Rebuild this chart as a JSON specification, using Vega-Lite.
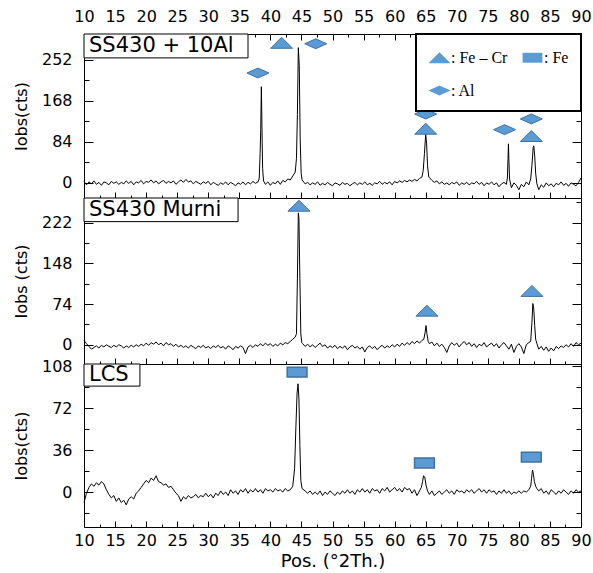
{
"$schema": "https://vega.github.io/schema/vega-lite/v6.json",
"padding": {"left": 12, "top": 7, "right": 5, "bottom": 0},
"background": "white",
"spacing": 0,
"bounds": "flush",
"config": {
  "view": {"stroke": "black", "strokeWidth": 1},
  "font": "DejaVu Sans",
  "axis": {"labelColor": "black", "tickColor": "black", "titleColor": "black", "titleFontWeight": "normal", "domain": false, "grid": false, "labelFlush": false, "labelOverlap": false, "labelFont": "DejaVu Sans", "labelFontSize": 16, "titleFont": "DejaVu Sans", "titleFontSize": 16, "tickWidth": 1},
  "legend": {"strokeWidth": 2}
},
"resolve": {"scale": {"shape": "independent"}, "legend": {"shape": "independent"}},
"datasets": {
"a": [{"x":10,"y":3},{"x":10.4,"y":-4},{"x":10.8,"y":2},{"x":11.2,"y":-2},{"x":11.6,"y":4},{"x":12,"y":-3},{"x":12.4,"y":1},{"x":12.8,"y":-5},{"x":13.2,"y":2},{"x":13.6,"y":0},{"x":14,"y":-4},{"x":14.4,"y":3},{"x":14.8,"y":-1},{"x":15.2,"y":2},{"x":15.6,"y":-3},{"x":16,"y":1},{"x":16.4,"y":-2},{"x":16.8,"y":4},{"x":17.2,"y":-1},{"x":17.6,"y":3},{"x":18,"y":-4},{"x":18.4,"y":2},{"x":18.8,"y":0},{"x":19.2,"y":5},{"x":19.6,"y":-2},{"x":20,"y":3},{"x":20.4,"y":1},{"x":20.8,"y":6},{"x":21.2,"y":0},{"x":21.6,"y":4},{"x":22,"y":-2},{"x":22.4,"y":2},{"x":22.8,"y":5},{"x":23.2,"y":-1},{"x":23.6,"y":3},{"x":24,"y":0},{"x":24.4,"y":4},{"x":24.8,"y":-3},{"x":25.2,"y":2},{"x":25.6,"y":6},{"x":26,"y":1},{"x":26.4,"y":7},{"x":26.8,"y":2},{"x":27.2,"y":4},{"x":27.6,"y":-2},{"x":28,"y":3},{"x":28.4,"y":0},{"x":28.8,"y":-3},{"x":29.2,"y":2},{"x":29.6,"y":-1},{"x":30,"y":3},{"x":30.4,"y":-4},{"x":30.8,"y":1},{"x":31.2,"y":-2},{"x":31.6,"y":-5},{"x":32,"y":0},{"x":32.4,"y":-3},{"x":32.8,"y":2},{"x":33.2,"y":-4},{"x":33.6,"y":1},{"x":34,"y":-2},{"x":34.4,"y":-6},{"x":34.8,"y":0},{"x":35.2,"y":-3},{"x":35.6,"y":2},{"x":36,"y":-4},{"x":36.4,"y":1},{"x":36.8,"y":-2},{"x":37.2,"y":3},{"x":37.6,"y":-1},{"x":38,"y":2},{"x":38.2,"y":8},{"x":38.35,"y":60},{"x":38.45,"y":110},{"x":38.55,"y":197},{"x":38.65,"y":110},{"x":38.75,"y":30},{"x":38.9,"y":4},{"x":39.2,"y":-3},{"x":39.6,"y":2},{"x":40,"y":-5},{"x":40.4,"y":1},{"x":40.8,"y":-2},{"x":41.2,"y":4},{"x":41.6,"y":-3},{"x":42,"y":5},{"x":42.4,"y":2},{"x":42.8,"y":8},{"x":43.2,"y":6},{"x":43.6,"y":14},{"x":44,"y":22},{"x":44.2,"y":50},{"x":44.35,"y":140},{"x":44.5,"y":277},{"x":44.65,"y":240},{"x":44.8,"y":90},{"x":44.95,"y":20},{"x":45.1,"y":6},{"x":45.6,"y":-2},{"x":46,"y":1},{"x":46.4,"y":-4},{"x":46.8,"y":0},{"x":47.2,"y":-3},{"x":47.6,"y":2},{"x":48,"y":-5},{"x":48.4,"y":-1},{"x":48.8,"y":-4},{"x":49.2,"y":1},{"x":49.6,"y":-3},{"x":50,"y":-6},{"x":50.4,"y":0},{"x":50.8,"y":-2},{"x":51.2,"y":-5},{"x":51.6,"y":1},{"x":52,"y":-3},{"x":52.4,"y":-1},{"x":52.8,"y":-6},{"x":53.2,"y":-2},{"x":53.6,"y":1},{"x":54,"y":-4},{"x":54.4,"y":0},{"x":54.8,"y":-3},{"x":55.2,"y":2},{"x":55.6,"y":-4},{"x":56,"y":-1},{"x":56.4,"y":-5},{"x":56.8,"y":0},{"x":57.2,"y":-2},{"x":57.6,"y":3},{"x":58,"y":-3},{"x":58.4,"y":1},{"x":58.8,"y":-2},{"x":59.2,"y":2},{"x":59.6,"y":-4},{"x":60,"y":3},{"x":60.4,"y":0},{"x":60.8,"y":4},{"x":61.2,"y":1},{"x":61.6,"y":5},{"x":62,"y":2},{"x":62.4,"y":6},{"x":62.8,"y":3},{"x":63.2,"y":7},{"x":63.6,"y":4},{"x":64,"y":9},{"x":64.4,"y":12},{"x":64.6,"y":25},{"x":64.8,"y":60},{"x":65,"y":100},{"x":65.15,"y":80},{"x":65.3,"y":35},{"x":65.5,"y":12},{"x":65.8,"y":8},{"x":66,"y":5},{"x":66.4,"y":1},{"x":66.8,"y":4},{"x":67.2,"y":-2},{"x":67.6,"y":2},{"x":68,"y":-3},{"x":68.4,"y":0},{"x":68.8,"y":-4},{"x":69.2,"y":1},{"x":69.6,"y":-2},{"x":70,"y":2},{"x":70.4,"y":-5},{"x":70.8,"y":0},{"x":71.2,"y":-3},{"x":71.6,"y":1},{"x":72,"y":-4},{"x":72.4,"y":0},{"x":72.8,"y":-2},{"x":73.2,"y":3},{"x":73.6,"y":-3},{"x":74,"y":1},{"x":74.4,"y":-6},{"x":74.8,"y":0},{"x":75.2,"y":-3},{"x":75.6,"y":2},{"x":76,"y":-4},{"x":76.4,"y":0},{"x":76.8,"y":-8},{"x":77.2,"y":-2},{"x":77.6,"y":1},{"x":78,"y":-3},{"x":78.15,"y":10},{"x":78.25,"y":50},{"x":78.32,"y":80},{"x":78.4,"y":45},{"x":78.5,"y":8},{"x":78.8,"y":-10},{"x":79.2,"y":0},{"x":79.6,"y":-5},{"x":80,"y":-14},{"x":80.4,"y":-3},{"x":80.8,"y":-8},{"x":81.2,"y":2},{"x":81.6,"y":-4},{"x":81.9,"y":8},{"x":82.1,"y":35},{"x":82.3,"y":72},{"x":82.4,"y":76},{"x":82.55,"y":55},{"x":82.7,"y":20},{"x":82.9,"y":-2},{"x":83.2,"y":-14},{"x":83.6,"y":-4},{"x":84,"y":-9},{"x":84.4,"y":0},{"x":84.8,"y":-6},{"x":85.2,"y":-2},{"x":85.6,"y":-8},{"x":86,"y":-1},{"x":86.4,"y":-4},{"x":86.8,"y":2},{"x":87.2,"y":-5},{"x":87.6,"y":-1},{"x":88,"y":-7},{"x":88.4,"y":0},{"x":88.8,"y":-3},{"x":89.2,"y":-6},{"x":89.6,"y":1},{"x":90,"y":10}],
"b": [{"x":10,"y":8},{"x":10.4,"y":2},{"x":10.8,"y":-3},{"x":11.2,"y":-8},{"x":11.6,"y":-5},{"x":12,"y":-2},{"x":12.4,"y":-6},{"x":12.8,"y":-1},{"x":13.2,"y":-4},{"x":13.6,"y":0},{"x":14,"y":-3},{"x":14.4,"y":-5},{"x":14.8,"y":-1},{"x":15.2,"y":-4},{"x":15.6,"y":0},{"x":16,"y":-2},{"x":16.4,"y":-6},{"x":16.8,"y":-2},{"x":17.2,"y":-5},{"x":17.6,"y":-1},{"x":18,"y":-4},{"x":18.4,"y":0},{"x":18.8,"y":-3},{"x":19.2,"y":1},{"x":19.6,"y":-2},{"x":20,"y":3},{"x":20.4,"y":-1},{"x":20.8,"y":4},{"x":21.2,"y":1},{"x":21.6,"y":5},{"x":22,"y":0},{"x":22.4,"y":3},{"x":22.8,"y":-2},{"x":23.2,"y":4},{"x":23.6,"y":0},{"x":24,"y":2},{"x":24.4,"y":-3},{"x":24.8,"y":1},{"x":25.2,"y":-4},{"x":25.6,"y":-1},{"x":26,"y":-5},{"x":26.4,"y":-2},{"x":26.8,"y":-6},{"x":27.2,"y":-1},{"x":27.6,"y":-4},{"x":28,"y":-7},{"x":28.4,"y":-2},{"x":28.8,"y":-5},{"x":29.2,"y":-1},{"x":29.6,"y":-6},{"x":30,"y":-3},{"x":30.4,"y":-7},{"x":30.8,"y":-2},{"x":31.2,"y":-5},{"x":31.6,"y":-1},{"x":32,"y":-6},{"x":32.4,"y":-3},{"x":32.8,"y":-8},{"x":33.2,"y":-2},{"x":33.6,"y":-5},{"x":34,"y":-9},{"x":34.4,"y":-3},{"x":34.8,"y":-6},{"x":35.2,"y":-2},{"x":35.6,"y":-5},{"x":36,"y":-16},{"x":36.4,"y":-4},{"x":36.8,"y":-1},{"x":37.2,"y":-5},{"x":37.6,"y":0},{"x":38,"y":-3},{"x":38.4,"y":2},{"x":38.8,"y":-2},{"x":39.2,"y":3},{"x":39.6,"y":-1},{"x":40,"y":2},{"x":40.4,"y":-3},{"x":40.8,"y":1},{"x":41.2,"y":-2},{"x":41.6,"y":3},{"x":42,"y":0},{"x":42.4,"y":4},{"x":42.8,"y":2},{"x":43.2,"y":6},{"x":43.6,"y":10},{"x":44,"y":14},{"x":44.2,"y":20},{"x":44.35,"y":120},{"x":44.5,"y":240},{"x":44.6,"y":230},{"x":44.75,"y":120},{"x":44.9,"y":20},{"x":45.05,"y":4},{"x":45.2,"y":2},{"x":45.6,"y":-3},{"x":46,"y":1},{"x":46.4,"y":-4},{"x":46.8,"y":0},{"x":47.2,"y":-5},{"x":47.6,"y":-1},{"x":48,"y":3},{"x":48.4,"y":-3},{"x":48.8,"y":0},{"x":49.2,"y":-6},{"x":49.6,"y":-2},{"x":50,"y":-5},{"x":50.4,"y":-1},{"x":50.8,"y":-7},{"x":51.2,"y":-3},{"x":51.6,"y":-6},{"x":52,"y":-2},{"x":52.4,"y":-9},{"x":52.8,"y":-4},{"x":53.2,"y":-1},{"x":53.6,"y":-6},{"x":54,"y":-3},{"x":54.4,"y":-8},{"x":54.8,"y":-4},{"x":55.2,"y":-13},{"x":55.6,"y":-5},{"x":56,"y":-2},{"x":56.4,"y":-7},{"x":56.8,"y":-3},{"x":57.2,"y":-9},{"x":57.6,"y":-4},{"x":58,"y":-1},{"x":58.4,"y":-6},{"x":58.8,"y":-2},{"x":59.2,"y":-5},{"x":59.6,"y":0},{"x":60,"y":-4},{"x":60.4,"y":1},{"x":60.8,"y":-3},{"x":61.2,"y":3},{"x":61.6,"y":-1},{"x":62,"y":4},{"x":62.4,"y":0},{"x":62.8,"y":6},{"x":63.2,"y":2},{"x":63.6,"y":7},{"x":64,"y":3},{"x":64.4,"y":8},{"x":64.7,"y":10},{"x":64.9,"y":22},{"x":65.05,"y":35},{"x":65.2,"y":20},{"x":65.4,"y":6},{"x":65.6,"y":2},{"x":66,"y":5},{"x":66.4,"y":-2},{"x":66.8,"y":3},{"x":67.2,"y":-3},{"x":67.6,"y":1},{"x":68,"y":-5},{"x":68.4,"y":-14},{"x":68.8,"y":-2},{"x":69.2,"y":4},{"x":69.6,"y":-1},{"x":70,"y":3},{"x":70.4,"y":-4},{"x":70.8,"y":2},{"x":71.2,"y":6},{"x":71.6,"y":0},{"x":72,"y":4},{"x":72.4,"y":-3},{"x":72.8,"y":2},{"x":73.2,"y":-5},{"x":73.6,"y":1},{"x":74,"y":-2},{"x":74.4,"y":4},{"x":74.8,"y":-4},{"x":75.2,"y":0},{"x":75.6,"y":3},{"x":76,"y":-3},{"x":76.4,"y":2},{"x":76.8,"y":-6},{"x":77.2,"y":0},{"x":77.6,"y":4},{"x":78,"y":-2},{"x":78.4,"y":-8},{"x":78.8,"y":1},{"x":79.2,"y":-14},{"x":79.6,"y":-3},{"x":80,"y":2},{"x":80.4,"y":-4},{"x":80.8,"y":-16},{"x":81.2,"y":0},{"x":81.6,"y":4},{"x":81.9,"y":6},{"x":82.1,"y":40},{"x":82.25,"y":75},{"x":82.4,"y":65},{"x":82.55,"y":35},{"x":82.7,"y":10},{"x":82.9,"y":2},{"x":83.2,"y":-8},{"x":83.6,"y":-3},{"x":84,"y":-10},{"x":84.4,"y":-4},{"x":84.8,"y":-12},{"x":85.2,"y":-6},{"x":85.6,"y":-11},{"x":86,"y":-3},{"x":86.4,"y":-7},{"x":86.8,"y":-2},{"x":87.2,"y":-5},{"x":87.6,"y":0},{"x":88,"y":-4},{"x":88.4,"y":2},{"x":88.8,"y":-3},{"x":89.2,"y":4},{"x":89.6,"y":0},{"x":90,"y":3}],
"c": [{"x":10,"y":-9},{"x":10.4,"y":-1},{"x":10.8,"y":4},{"x":11.2,"y":7},{"x":11.6,"y":5},{"x":12,"y":8},{"x":12.4,"y":6},{"x":12.8,"y":9},{"x":13.2,"y":7},{"x":13.6,"y":2},{"x":14,"y":-2},{"x":14.4,"y":-5},{"x":14.8,"y":-3},{"x":15.2,"y":-8},{"x":15.6,"y":-5},{"x":16,"y":-9},{"x":16.4,"y":-7},{"x":16.8,"y":-11},{"x":17.2,"y":-6},{"x":17.6,"y":-4},{"x":18,"y":-6},{"x":18.4,"y":-1},{"x":18.8,"y":1},{"x":19.2,"y":4},{"x":19.6,"y":7},{"x":20,"y":10},{"x":20.4,"y":8},{"x":20.8,"y":12},{"x":21.2,"y":10},{"x":21.6,"y":14},{"x":22,"y":9},{"x":22.4,"y":8},{"x":22.8,"y":6},{"x":23.2,"y":7},{"x":23.6,"y":4},{"x":24,"y":5},{"x":24.4,"y":2},{"x":24.8,"y":-1},{"x":25.2,"y":-3},{"x":25.6,"y":-8},{"x":26,"y":-4},{"x":26.4,"y":-6},{"x":26.8,"y":-3},{"x":27.2,"y":-5},{"x":27.6,"y":-4},{"x":28,"y":-2},{"x":28.4,"y":-5},{"x":28.8,"y":-3},{"x":29.2,"y":-4},{"x":29.6,"y":-1},{"x":30,"y":-4},{"x":30.4,"y":-2},{"x":30.8,"y":-5},{"x":31.2,"y":-1},{"x":31.6,"y":-3},{"x":32,"y":1},{"x":32.4,"y":-2},{"x":32.8,"y":0},{"x":33.2,"y":-3},{"x":33.6,"y":2},{"x":34,"y":-1},{"x":34.4,"y":1},{"x":34.8,"y":-2},{"x":35.2,"y":2},{"x":35.6,"y":0},{"x":36,"y":3},{"x":36.4,"y":-1},{"x":36.8,"y":2},{"x":37.2,"y":0},{"x":37.6,"y":3},{"x":38,"y":0},{"x":38.4,"y":2},{"x":38.8,"y":-1},{"x":39.2,"y":3},{"x":39.6,"y":1},{"x":40,"y":2},{"x":40.4,"y":0},{"x":40.8,"y":3},{"x":41.2,"y":1},{"x":41.6,"y":2},{"x":42,"y":0},{"x":42.4,"y":3},{"x":42.8,"y":1},{"x":43.2,"y":2},{"x":43.6,"y":5},{"x":43.9,"y":20},{"x":44.1,"y":55},{"x":44.3,"y":85},{"x":44.45,"y":93},{"x":44.6,"y":80},{"x":44.75,"y":40},{"x":44.9,"y":10},{"x":45.1,"y":3},{"x":45.6,"y":1},{"x":46,"y":-1},{"x":46.4,"y":1},{"x":46.8,"y":-2},{"x":47.2,"y":0},{"x":47.6,"y":-2},{"x":48,"y":1},{"x":48.4,"y":-3},{"x":48.8,"y":0},{"x":49.2,"y":-2},{"x":49.6,"y":1},{"x":50,"y":-1},{"x":50.4,"y":-3},{"x":50.8,"y":0},{"x":51.2,"y":-2},{"x":51.6,"y":1},{"x":52,"y":-1},{"x":52.4,"y":2},{"x":52.8,"y":-1},{"x":53.2,"y":1},{"x":53.6,"y":-2},{"x":54,"y":2},{"x":54.4,"y":0},{"x":54.8,"y":3},{"x":55.2,"y":0},{"x":55.6,"y":2},{"x":56,"y":-1},{"x":56.4,"y":3},{"x":56.8,"y":1},{"x":57.2,"y":2},{"x":57.6,"y":-1},{"x":58,"y":3},{"x":58.4,"y":1},{"x":58.8,"y":4},{"x":59.2,"y":0},{"x":59.6,"y":2},{"x":60,"y":4},{"x":60.4,"y":1},{"x":60.8,"y":3},{"x":61.2,"y":0},{"x":61.6,"y":4},{"x":62,"y":2},{"x":62.4,"y":3},{"x":62.8,"y":-1},{"x":63.2,"y":2},{"x":63.6,"y":-3},{"x":64,"y":1},{"x":64.3,"y":4},{"x":64.5,"y":9},{"x":64.65,"y":14},{"x":64.85,"y":13},{"x":65.05,"y":6},{"x":65.3,"y":1},{"x":65.6,"y":-2},{"x":66,"y":1},{"x":66.4,"y":-3},{"x":66.8,"y":-1},{"x":67.2,"y":1},{"x":67.6,"y":-2},{"x":68,"y":0},{"x":68.4,"y":2},{"x":68.8,"y":-1},{"x":69.2,"y":1},{"x":69.6,"y":-2},{"x":70,"y":2},{"x":70.4,"y":0},{"x":70.8,"y":1},{"x":71.2,"y":-1},{"x":71.6,"y":2},{"x":72,"y":0},{"x":72.4,"y":2},{"x":72.8,"y":-1},{"x":73.2,"y":1},{"x":73.6,"y":3},{"x":74,"y":0},{"x":74.4,"y":2},{"x":74.8,"y":-1},{"x":75.2,"y":2},{"x":75.6,"y":0},{"x":76,"y":1},{"x":76.4,"y":-2},{"x":76.8,"y":1},{"x":77.2,"y":-1},{"x":77.6,"y":2},{"x":78,"y":-1},{"x":78.4,"y":1},{"x":78.8,"y":-2},{"x":79.2,"y":0},{"x":79.6,"y":-1},{"x":80,"y":1},{"x":80.4,"y":-1},{"x":80.8,"y":1},{"x":81.2,"y":0},{"x":81.6,"y":2},{"x":81.9,"y":5},{"x":82.05,"y":12},{"x":82.2,"y":19},{"x":82.35,"y":15},{"x":82.5,"y":9},{"x":82.7,"y":5},{"x":82.9,"y":3},{"x":83.2,"y":1},{"x":83.6,"y":3},{"x":84,"y":-1},{"x":84.4,"y":1},{"x":84.8,"y":-2},{"x":85.2,"y":2},{"x":85.6,"y":0},{"x":86,"y":-2},{"x":86.4,"y":1},{"x":86.8,"y":-1},{"x":87.2,"y":2},{"x":87.6,"y":0},{"x":88,"y":-2},{"x":88.4,"y":1},{"x":88.8,"y":-1},{"x":89.2,"y":2},{"x":89.6,"y":0},{"x":90,"y":1}],
"m1": [{"x":38.0,"y":225,"phase":"Al"},{"x":41.8,"y":287,"phase":"Fe – Cr"},{"x":47.3,"y":285,"phase":"Al"},{"x":65.0,"y":141,"phase":"Al"},{"x":65.0,"y":111,"phase":"Fe – Cr"},{"x":77.7,"y":109,"phase":"Al"},{"x":82.0,"y":131,"phase":"Al"},{"x":82.0,"y":96,"phase":"Fe – Cr"}],
"m2": [{"x":44.6,"y":253,"phase":"Fe – Cr"},{"x":65.2,"y":62,"phase":"Fe – Cr"},{"x":82.1,"y":98,"phase":"Fe – Cr"}],
"m3": [{"x":44.3,"y":103,"phase":"Fe"},{"x":64.8,"y":25,"phase":"Fe"},{"x":82.0,"y":30,"phase":"Fe"}],
"l1": [{"label":"SS430 + 10Al"}],
"l2": [{"label":"SS430 Murni"}],
"l3": [{"label":"LCS"}]
},
"vconcat": [
{
 "width": 497, "height": 164,
 "resolve": {"axis": {"x": "independent", "y": "independent"}},
 "layer": [
  {"data": {"name": "a"}, "mark": {"type": "line", "color": "black", "strokeWidth": 1},
   "encoding": {
    "x": {"field": "x", "type": "quantitative", "scale": {"domain": [10, 90], "nice": false, "zero": false},
      "axis": {"orient": "bottom", "values": [10,15,20,25,30,35,40,45,50,55,60,65,70,75,80,85,90], "labels": false, "title": null, "tickSize": -6}},
    "y": {"field": "y", "type": "quantitative", "scale": {"domain": [-31, 305], "nice": false, "zero": false},
      "axis": {"orient": "left", "values": [0,84,168,252], "tickSize": -9, "labelPadding": 21, "title": "Iobs(cts)", "titlePadding": 12}}
   }},
  {"data": {"name": "m1"}, "mark": {"type": "point", "filled": true, "fill": "#5B9BD5", "stroke": "#41719C", "strokeWidth": 1, "opacity": 1, "size": 484},
   "encoding": {
    "x": {"field": "x", "type": "quantitative", "scale": {"domain": [10, 90], "nice": false, "zero": false},
      "axis": {"orient": "top", "values": [10,15,20,25,30,35,40,45,50,55,60,65,70,75,80,85,90], "tickSize": -6, "labelPadding": 16, "title": null}},
    "y": {"field": "y", "type": "quantitative", "scale": {"domain": [-31, 305], "nice": false, "zero": false},
      "axis": {"orient": "right", "values": [0,84,168,252], "tickSize": -9, "labels": false, "title": null}},
    "shape": {"field": "phase", "type": "nominal",
      "scale": {"domain": ["Fe – Cr", "Fe", "Al"], "range": ["M-1,0.5L1,0.5L0,-0.5Z", "M-0.9,-0.45L0.9,-0.45L0.9,0.45L-0.9,0.45Z", "M-1,0L0,-0.45L1,0L0,0.45Z"]},
      "legend": {"orient": "top-right", "offset": 0, "title": null, "columns": 2, "direction": "horizontal", "labelFont": "Liberation Serif", "labelFontSize": 16, "labelColor": "black", "labelExpr": "': ' + datum.label", "symbolSize": 484, "symbolFillColor": "#5B9BD5", "symbolStrokeColor": "#41719C", "symbolStrokeWidth": 1, "symbolOpacity": 1, "strokeColor": "black", "fillColor": "white", "padding": 12, "rowPadding": 13, "columnPadding": 12, "labelOffset": 0}}
   }},
  {"data": {"name": "l1"}, "mark": {"type": "rect", "fill": "white", "stroke": "black", "strokeWidth": 1},
   "encoding": {
    "x": {"datum": 10, "type": "quantitative", "axis": {"orient": "bottom", "values": [12.5,17.5,22.5,27.5,32.5,37.5,42.5,47.5,52.5,57.5,62.5,67.5,72.5,77.5,82.5,87.5], "labels": false, "title": null, "tickSize": -3}},
    "x2": {"datum": 36.4},
    "y": {"datum": 305, "type": "quantitative", "axis": {"orient": "left", "values": [42,126,210,294], "labels": false, "title": null, "tickSize": -5}},
    "y2": {"datum": 256}}},
  {"data": {"name": "l1"}, "mark": {"type": "text", "align": "left", "baseline": "middle", "dx": 5, "font": "DejaVu Sans", "fontSize": 21, "color": "black"},
   "encoding": {
    "x": {"datum": 10, "type": "quantitative", "axis": {"orient": "top", "values": [12.5,17.5,22.5,27.5,32.5,37.5,42.5,47.5,52.5,57.5,62.5,67.5,72.5,77.5,82.5,87.5], "labels": false, "title": null, "tickSize": -3}},
    "y": {"datum": 280.5, "type": "quantitative", "axis": {"orient": "right", "values": [42,126,210,294], "labels": false, "title": null, "tickSize": -5}},
    "text": {"field": "label"}}}
 ]
},
{
 "width": 497, "height": 166,
 "resolve": {"axis": {"x": "independent", "y": "independent"}},
 "layer": [
  {"data": {"name": "b"}, "mark": {"type": "line", "color": "black", "strokeWidth": 1},
   "encoding": {
    "x": {"field": "x", "type": "quantitative", "scale": {"domain": [10, 90], "nice": false, "zero": false},
      "axis": {"orient": "bottom", "values": [10,15,20,25,30,35,40,45,50,55,60,65,70,75,80,85,90], "labels": false, "title": null, "tickSize": -6}},
    "y": {"field": "y", "type": "quantitative", "scale": {"domain": [-35, 267], "nice": false, "zero": false},
      "axis": {"orient": "left", "values": [0,74,148,222], "tickSize": -9, "labelPadding": 21, "title": "Iobs (cts)", "titlePadding": 12}}
   }},
  {"data": {"name": "m2"}, "mark": {"type": "point", "filled": true, "fill": "#5B9BD5", "stroke": "#41719C", "strokeWidth": 1, "opacity": 1, "size": 484},
   "encoding": {
    "x": {"field": "x", "type": "quantitative", "scale": {"domain": [10, 90], "nice": false, "zero": false}, "axis": null},
    "y": {"field": "y", "type": "quantitative", "scale": {"domain": [-35, 267], "nice": false, "zero": false},
      "axis": {"orient": "right", "values": [0,74,148,222], "tickSize": -9, "labels": false, "title": null}},
    "shape": {"field": "phase", "type": "nominal",
      "scale": {"domain": ["Fe – Cr", "Fe", "Al"], "range": ["M-1,0.5L1,0.5L0,-0.5Z", "M-0.9,-0.45L0.9,-0.45L0.9,0.45L-0.9,0.45Z", "M-1,0L0,-0.45L1,0L0,0.45Z"]},
      "legend": null}
   }},
  {"data": {"name": "l2"}, "mark": {"type": "rect", "fill": "white", "stroke": "black", "strokeWidth": 1},
   "encoding": {
    "x": {"datum": 10, "type": "quantitative", "axis": {"orient": "bottom", "values": [12.5,17.5,22.5,27.5,32.5,37.5,42.5,47.5,52.5,57.5,62.5,67.5,72.5,77.5,82.5,87.5], "labels": false, "title": null, "tickSize": -3}},
    "x2": {"datum": 34.8},
    "y": {"datum": 267, "type": "quantitative", "axis": {"orient": "left", "values": [37,111,185,259], "labels": false, "title": null, "tickSize": -5}},
    "y2": {"datum": 224}}},
  {"data": {"name": "l2"}, "mark": {"type": "text", "align": "left", "baseline": "middle", "dx": 5, "font": "DejaVu Sans", "fontSize": 21, "color": "black"},
   "encoding": {
    "x": {"datum": 10, "type": "quantitative", "axis": null},
    "y": {"datum": 245.5, "type": "quantitative", "axis": {"orient": "right", "values": [37,111,185,259], "labels": false, "title": null, "tickSize": -5}},
    "text": {"field": "label"}}}
 ]
},
{
 "width": 497, "height": 163,
 "resolve": {"axis": {"x": "independent", "y": "independent"}},
 "layer": [
  {"data": {"name": "c"}, "mark": {"type": "line", "color": "black", "strokeWidth": 1},
   "encoding": {
    "x": {"field": "x", "type": "quantitative", "scale": {"domain": [10, 90], "nice": false, "zero": false},
      "axis": {"orient": "bottom", "values": [10,15,20,25,30,35,40,45,50,55,60,65,70,75,80,85,90], "tickSize": -6, "labelPadding": 11, "title": "Pos. (°2Th.)", "titleFontSize": 18, "titlePadding": 4}},
    "y": {"field": "y", "type": "quantitative", "scale": {"domain": [-30, 110], "nice": false, "zero": false},
      "axis": {"orient": "left", "values": [0,36,72,108], "tickSize": -9, "labelPadding": 21, "title": "Iobs(cts)", "titlePadding": 12}}
   }},
  {"data": {"name": "m3"}, "mark": {"type": "point", "filled": true, "fill": "#5B9BD5", "stroke": "#41719C", "strokeWidth": 1.5, "opacity": 1, "size": 484},
   "encoding": {
    "x": {"field": "x", "type": "quantitative", "scale": {"domain": [10, 90], "nice": false, "zero": false}, "axis": null},
    "y": {"field": "y", "type": "quantitative", "scale": {"domain": [-30, 110], "nice": false, "zero": false},
      "axis": {"orient": "right", "values": [0,36,72,108], "tickSize": -9, "labels": false, "title": null}},
    "shape": {"field": "phase", "type": "nominal",
      "scale": {"domain": ["Fe – Cr", "Fe", "Al"], "range": ["M-1,0.5L1,0.5L0,-0.5Z", "M-0.9,-0.45L0.9,-0.45L0.9,0.45L-0.9,0.45Z", "M-1,0L0,-0.45L1,0L0,0.45Z"]},
      "legend": null}
   }},
  {"data": {"name": "l3"}, "mark": {"type": "rect", "fill": "white", "stroke": "black", "strokeWidth": 1},
   "encoding": {
    "x": {"datum": 10, "type": "quantitative", "axis": {"orient": "bottom", "values": [12.5,17.5,22.5,27.5,32.5,37.5,42.5,47.5,52.5,57.5,62.5,67.5,72.5,77.5,82.5,87.5], "labels": false, "title": null, "tickSize": -3}},
    "x2": {"datum": 19},
    "y": {"datum": 110, "type": "quantitative", "axis": {"orient": "left", "values": [-18,18,54,90], "labels": false, "title": null, "tickSize": -5}},
    "y2": {"datum": 91}}},
  {"data": {"name": "l3"}, "mark": {"type": "text", "align": "left", "baseline": "middle", "dx": 5, "font": "DejaVu Sans", "fontSize": 21, "color": "black"},
   "encoding": {
    "x": {"datum": 10, "type": "quantitative", "axis": null},
    "y": {"datum": 100.5, "type": "quantitative", "axis": {"orient": "right", "values": [-18,18,54,90], "labels": false, "title": null, "tickSize": -5}},
    "text": {"field": "label"}}}
 ]
}
]
}
